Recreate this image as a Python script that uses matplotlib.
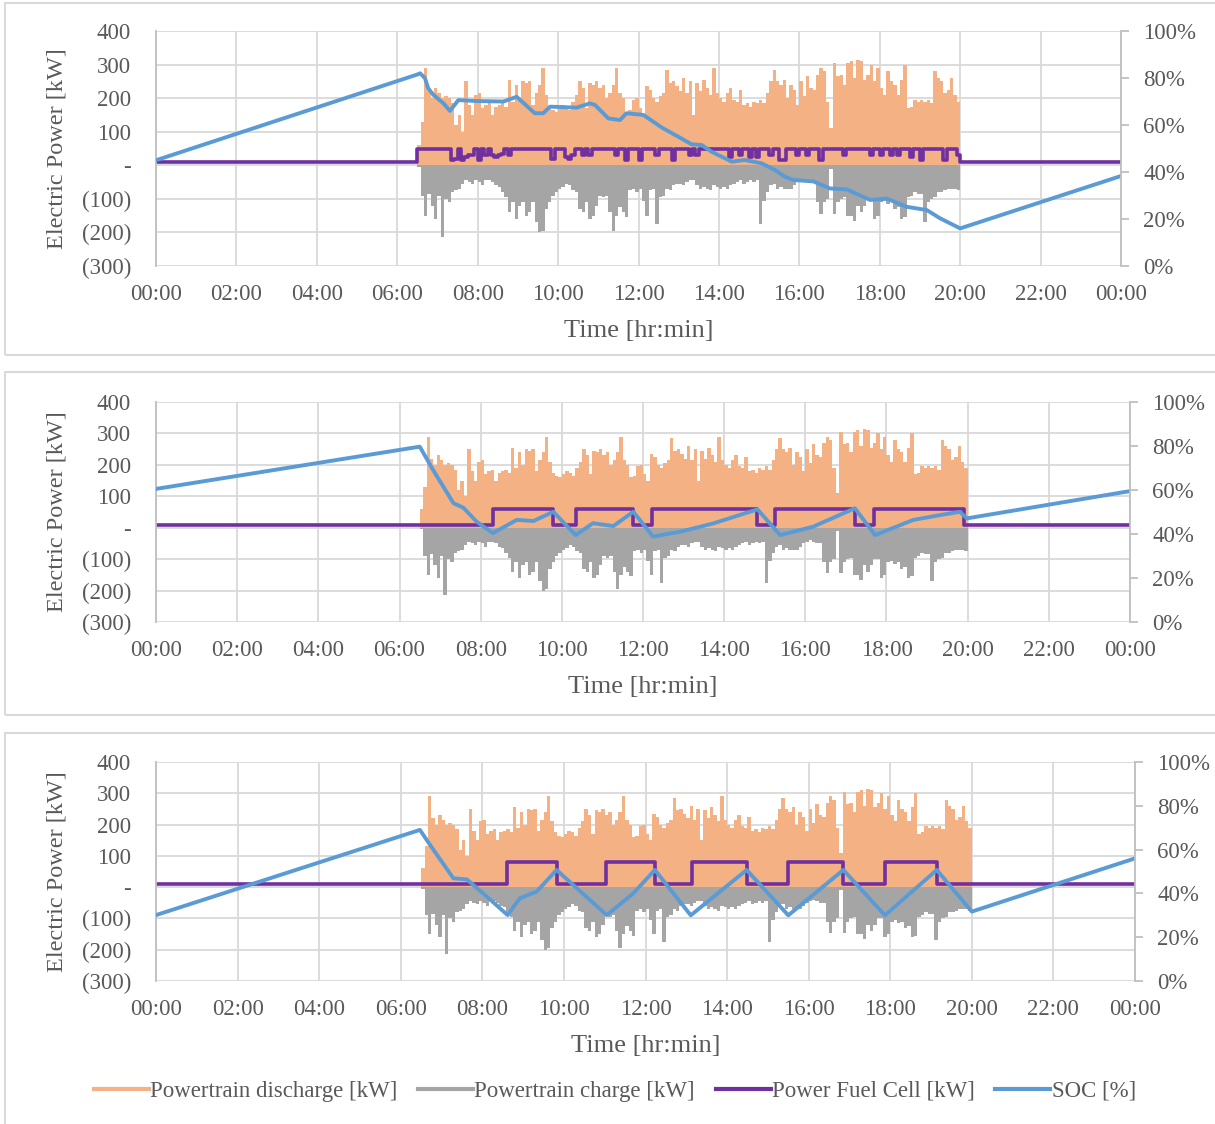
import numpy as np
import matplotlib.pyplot as plt
from matplotlib.patches import Rectangle
from matplotlib.lines import Line2D
from matplotlib.ticker import FuncFormatter

plt.rcParams['font.family'] = ['Liberation Serif', 'DejaVu Serif']

# ---------------- data ----------------
# drive cycle, one value per 5 min bin, 06:30 -> 20:00 (same in all panels)
drive_start_h = 6.5
bin_min = 5
discharge_kw = [
    60, 130, 290, 220, 200, 230,
    215, 200, 205, 200, 185, 120, 150, 100, 250, 180, 150, 210,
    215, 170, 180, 185, 150, 175, 180, 185, 175, 255, 190, 240,
    200, 250, 245, 250, 180, 215, 240, 290, 210, 175, 165, 160,
    170, 180, 175, 165, 190, 210, 250, 230, 170, 245, 240, 250,
    230, 240, 200, 215, 240, 290, 215, 200, 160, 165, 195, 200,
    170, 150, 235, 225, 200, 190, 205, 215, 285, 245, 250, 235,
    220, 260, 215, 250, 150, 245, 220, 255, 230, 210, 290, 215,
    200, 190, 215, 230, 195, 190, 225, 180, 185, 175, 190, 185,
    195, 185, 215, 250, 285, 250, 240, 255, 200, 240, 225, 180,
    250, 205, 265, 230, 225, 270, 290, 280, 190, 110, 305, 265,
    270, 240, 305, 310, 260, 315, 310, 255, 270, 300, 250, 290,
    230, 210, 280, 250, 240, 210, 255, 300, 170, 175, 195, 190,
    195, 190, 195, 185, 280, 260, 250, 215, 225, 260, 210, 190,
]
charge_kw = [
    -5, -90, -150, -85, -120, -160,
    -90, -215, -100, -110, -80, -75, -70, -55, -45, -50, -55, -45,
    -50, -60, -45, -45, -50, -60, -65, -80, -95, -140, -110, -160,
    -120, -110, -150, -140, -110, -170, -200, -195, -130, -110, -90, -80,
    -70, -65, -55, -60, -75, -80, -130, -140, -110, -160, -150, -120,
    -90, -95, -90, -140, -195, -150, -125, -140, -155, -75, -70, -80,
    -70, -105, -150, -75, -70, -175, -95, -90, -70, -75, -60, -55,
    -55, -60, -50, -45, -45, -60, -70, -65, -70, -75, -60, -65,
    -70, -65, -70, -60, -55, -50, -45, -55, -50, -45, -50, -45,
    -175, -105, -80, -60, -55, -70, -65, -70, -70, -70, -60, -50,
    -45, -40, -45, -50, -50, -110, -145, -110, -100, -10, -145, -110,
    -100, -95, -150, -150, -165, -120, -140, -120, -100, -100, -160, -150,
    -110, -105, -115, -110, -130, -125, -160, -155, -95, -90, -80, -85,
    -85, -170, -110, -100, -95, -80, -80, -75, -70, -70, -70, -75,
]
# panel 1 fuel cell, same 5 min bins
fc1_drive_kw = [
    50, 50, 50, 50, 50, 50,
    50, 50, 50, 50, 15, 20, 50, 15, 25, 30, 30, 50,
    15, 50, 30, 50, 30, 25, 30, 35, 50, 30, 50, 50,
    50, 50, 50, 50, 50, 50, 50, 50, 50, 50, 20, 50,
    50, 50, 25, 20, 30, 50, 50, 30, 50, 30, 50, 50,
    50, 50, 50, 50, 50, 30, 50, 50, 15, 50, 50, 50,
    15, 50, 50, 50, 50, 30, 50, 50, 50, 50, 15, 50,
    50, 50, 50, 30, 50, 30, 50, 50, 50, 50, 50, 50,
    50, 50, 50, 25, 50, 50, 30, 50, 50, 25, 50, 25,
    50, 50, 50, 30, 50, 50, 15, 15, 50, 50, 50, 30,
    50, 50, 30, 50, 50, 50, 15, 50, 50, 50, 50, 50,
    50, 30, 50, 50, 50, 50, 50, 50, 50, 30, 50, 50,
    30, 50, 50, 30, 50, 30, 50, 50, 50, 25, 50, 50,
    15, 50, 50, 50, 50, 50, 50, 15, 50, 50, 50, 30,
]
fc_idle_kw = 10

# panels 2 and 3 fuel cell on/off schedule (hours)
fc2_t = [0, 8.30, 9.79, 10.34, 11.76, 12.21, 14.82, 15.25, 17.22, 17.68, 19.90, 24]
fc2_kw = [10, 60, 10, 60, 10, 60, 10, 60, 10, 60, 10, 10]
fc3_t = [0, 8.61, 9.82, 11.03, 12.23, 13.13, 14.48, 15.50, 16.85, 17.87, 19.14, 24]
fc3_kw = [10, 80, 10, 80, 10, 80, 10, 80, 10, 80, 10, 10]

# state of charge [%]
soc1_t = [0, 6.50, 6.57, 6.69, 6.77, 6.90, 7.15, 7.31, 7.52, 7.97, 8.64, 8.97, 9.42,
          9.63, 9.80, 10.46, 10.79, 10.92, 11.25, 11.54, 11.70, 12.12, 12.58, 12.99,
          13.32, 13.57, 13.82, 14.32, 14.64, 15.06, 15.39, 15.64, 15.85, 16.35, 16.76,
          17.18, 17.76, 18.17, 18.67, 19.17, 19.50, 20.0, 24]
soc1 = [45, 81.5, 82, 79.9, 75.6, 72.8, 69.2, 66, 70.6, 70.2, 70, 72, 65,
        65, 67.8, 67.4, 69.2, 68.5, 62.8, 62.1, 65, 64.3, 58.9, 55,
        51.8, 51.5, 48.6, 44.4, 45.1, 43.7, 40.9, 38, 36.6, 36, 33,
        32.6, 28.1, 28.7, 25.2, 23.8, 20.3, 16, 38.3]
soc2_t = [0, 6.5, 6.83, 7.33, 7.57, 7.90, 8.30, 8.89, 9.30, 9.79, 10.34, 10.77, 11.27,
          11.76, 12.25, 12.59, 12.91, 13.41, 13.73, 14.82, 15.38, 16.19, 17.22, 17.72,
          18.66, 19.32, 19.81, 19.98, 24]
soc2 = [60.5, 79.7, 69, 54, 52, 45.6, 40.4, 46.4, 45.9, 50.1, 39.5, 44.9, 43.6,
        50.1, 38.8, 40, 41, 43.3, 44.8, 51.2, 39.5, 43.3, 51.7, 39.5,
        46.4, 48.6, 50.1, 47.1, 59.5]
soc3_t = [0, 6.47, 6.72, 7.29, 7.62, 8.02, 8.62, 8.92, 9.33, 9.82, 11.05, 11.70, 12.23,
          13.11, 14.48, 15.50, 16.85, 17.87, 19.14, 20.0, 24]
soc3 = [30.1, 69, 62.1, 46.9, 46.4, 40, 30.1, 37.8, 40.8, 50.7, 30.1, 40, 50.7,
        30, 50.7, 30, 50.7, 30, 50.7, 31.7, 56]

hour_ticks = list(range(0, 25, 2))
hour_labels = ['%02d:00' % (h % 24) for h in hour_ticks]
kw_ticks = [-300, -200, -100, 0, 100, 200, 300, 400]
soc_ticks = [0, 20, 40, 60, 80, 100]

C_DIS = '#F4B183'
C_CHG = '#A5A5A5'
C_FC = '#7030A0'
C_SOC = '#5B9BD5'
C_TXT = '#595959'
C_GRID = '#d9d9d9'

W, H = 1215, 1124
fig = plt.figure(figsize=(W / 100, H / 100), dpi=100)

# panel frames
for top, bot in [(3, 355), (372, 715), (733, 1130)]:
    fig.add_artist(Rectangle((5 / W, 1 - bot / H), 1.2, (bot - top) / H,
                             transform=fig.transFigure, fill=False,
                             edgecolor=C_GRID, lw=1.5))

t_edges = drive_start_h + np.arange(len(discharge_kw) + 1) * bin_min / 60.0
dis_y = discharge_kw + [discharge_kw[-1]]
chg_y = charge_kw + [charge_kw[-1]]
fc1_t = [0] + list(t_edges[:-1]) + [20, 24]
fc1_kw = [fc_idle_kw] + fc1_drive_kw + [fc_idle_kw, fc_idle_kw]


def kw_fmt(v, pos):
    v = int(round(v))
    if v == 0:
        return '-'
    if v < 0:
        return '(%d)' % -v
    return '%d' % v


def panel(l, r, t, b, fc_t, fc_kw, soc_t, soc):
    ax = fig.add_axes([l / W, 1 - b / H, (r - l) / W, (b - t) / H])
    ax.fill_between(t_edges, dis_y, 0, step='post', color=C_DIS, lw=0)
    ax.fill_between(t_edges, chg_y, 0, step='post', color=C_CHG, lw=0)
    ax.plot(fc_t, fc_kw, drawstyle='steps-post', color=C_FC, lw=2.6)
    ax.set_xlim(0, 24)
    ax.set_ylim(-300, 400)
    ax.set_xticks(hour_ticks)
    ax.set_xticklabels(hour_labels)
    ax.set_yticks(kw_ticks)
    ax.yaxis.set_major_formatter(FuncFormatter(kw_fmt))
    ax.grid(color=C_GRID, lw=1.3)
    ax.set_axisbelow(True)
    for s in ['top', 'right', 'bottom']:
        ax.spines[s].set_visible(False)
    ax.spines['left'].set_color('#bfbfbf')
    ax.spines['left'].set_linewidth(1.3)
    ax.tick_params(axis='both', length=0, labelsize=16.5, labelcolor=C_TXT)
    ax.tick_params(axis='y', pad=18)
    ax.tick_params(axis='x', pad=13)
    ax.set_ylabel('Electric Power [kW]', fontsize=17.5, color=C_TXT)
    ax.yaxis.set_label_coords((67 - l) / (r - l), 0.5)
    ax.set_xlabel('Time [hr:min]', fontsize=19, color=C_TXT)
    ax.xaxis.set_label_coords(0.5, -(54 / (b - t)))

    ax2 = ax.twinx()
    ax2.plot(soc_t, soc, color=C_SOC, lw=2.8)
    ax2.set_ylim(0, 100)
    ax2.set_yticks(soc_ticks)
    ax2.set_yticklabels(['%d%%' % v for v in soc_ticks])
    for s in ['top', 'left', 'bottom']:
        ax2.spines[s].set_visible(False)
    ax2.spines['right'].set_color('#bfbfbf')
    ax2.spines['right'].set_linewidth(1.3)
    ax2.tick_params(axis='y', length=6, width=1.3, color='#bfbfbf',
                    labelsize=16.5, labelcolor=C_TXT, pad=10)
    return ax


panel(156, 1121, 31, 266, fc1_t, fc1_kw, soc1_t, soc1)
panel(156, 1130, 402, 622, fc2_t, fc2_kw, soc2_t, soc2)
panel(156, 1135, 762, 981, fc3_t, fc3_kw, soc3_t, soc3)

handles = [Line2D([], [], color=c, lw=3) for c in [C_DIS, C_CHG, C_FC, C_SOC]]
labels = ['Powertrain discharge [kW]', 'Powertrain charge [kW]',
          'Power Fuel Cell [kW]', 'SOC [%]']
fig.legend(handles, labels, loc='center', bbox_to_anchor=(615 / W, 1 - 1091 / H),
           ncol=4, frameon=False, fontsize=16.5, handlelength=2.4,
           handletextpad=0.05, columnspacing=0.9, labelcolor=C_TXT)

fig.savefig('out.png', dpi=100)
